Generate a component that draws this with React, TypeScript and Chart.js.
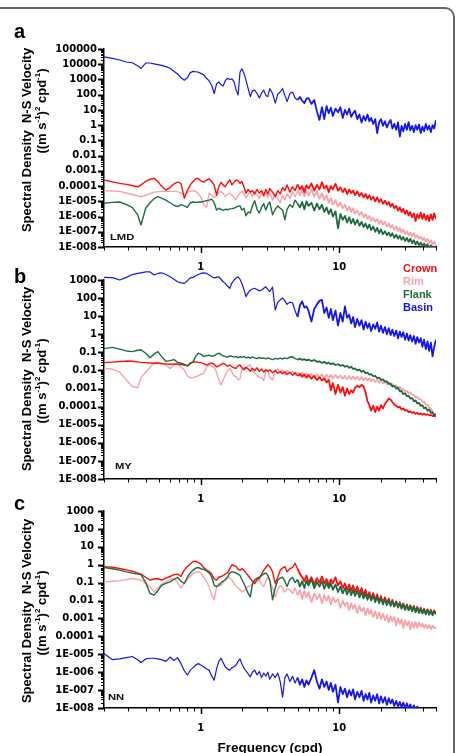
import React, { useEffect, useRef } from "react";
import { Chart, registerables } from "chart.js";

Chart.register(...registerables);

// Frequency (cpd), shared by every series
const FREQ = [
  0.2, 0.23, 0.26, 0.29, 0.32, 0.35, 0.37, 0.4, 0.43, 0.46,
  0.49, 0.52, 0.56, 0.6, 0.64, 0.68, 0.72, 0.76, 0.8, 0.84,
  0.88, 0.92, 0.96, 1.0, 1.05, 1.1, 1.15, 1.2, 1.25, 1.3,
  1.35, 1.4, 1.45, 1.5, 1.56, 1.62, 1.68, 1.74, 1.8, 1.86,
  1.92, 1.98, 2.05, 2.12, 2.2, 2.28, 2.36, 2.45, 2.55, 2.65,
  2.75, 2.85, 2.95, 3.05, 3.15, 3.3, 3.45, 3.6, 3.75, 3.9,
  4.05, 4.2, 4.4, 4.6, 4.8, 5.0, 5.2, 5.4, 5.6, 5.8,
  6.0, 6.3, 6.6, 6.9, 7.2, 7.5, 7.8, 8.1, 8.4, 8.7,
  9.0, 9.4, 9.8, 10.2, 10.6, 11.0, 11.4, 11.8, 12.2, 12.6,
  13.0, 13.5, 14.0, 14.5, 15.0, 15.5, 16.0, 16.5, 17.0, 17.6,
  18.2, 18.8, 19.4, 20.0, 20.7, 21.4, 22.1, 22.8, 23.5, 24.2,
  25.0, 25.8, 26.6, 27.4, 28.2, 29.0, 29.9, 30.8, 31.7, 32.6,
  33.6, 34.6, 35.6, 36.6, 37.7, 38.8, 39.9, 41.0, 42.2, 43.4,
  44.6, 45.9, 47.2, 48.5, 50.0,
];

// ---------- Panel a (LMD) ----------
const A_BASIN = [
  30000, 24000, 19000, 14000, 12500, 8000, 5400, 12000, 12000, 10500,
  9500, 8500, 7000, 5400, 3500, 2300, 1300, 900, 1300, 2800,
  3400, 3200, 3000, 2500, 2000, 1200, 800, 400, 120, 500,
  700, 450, 370, 800, 1200, 1000, 1100, 700, 200, 95,
  3000, 5000, 2500, 900, 250, 75, 180, 200, 120, 60,
  130, 200, 90, 75, 250, 120, 28, 110, 150, 250,
  90, 35, 120, 150, 60, 45, 70, 40, 28, 55,
  60, 25, 45, 8, 2.2, 15, 2.5, 18, 6, 14,
  4, 12, 7, 15, 3, 10, 5, 12, 3.5, 6,
  9, 2.5, 5, 1.5, 4, 2, 5, 1.8, 3, 1.2,
  2.5, 0.3, 1.5, 2.5, 0.9, 1.8, 0.7, 1.4, 2.2, 0.6,
  1.2, 0.5, 1.5, 0.18, 0.9, 0.4, 1.2, 0.5, 1.6, 0.45,
  0.9, 0.35, 1.0, 0.5, 1.1, 0.3, 0.8, 0.4, 1.2, 0.5,
  0.9, 0.35, 1.0, 0.6, 2.2,
];
const A_CROWN = [
  2.5e-4, 1.9e-4, 1.5e-4, 1.3e-4, 1.1e-4, 9e-5, 1.2e-4, 2e-4, 2.8e-4, 3.2e-4,
  2e-4, 1e-4, 5.5e-5, 8e-5, 1.4e-4, 1.8e-4, 1.5e-4, 1.6e-5, 5e-5, 1.2e-4,
  2e-4, 3e-4, 3.2e-4, 2.2e-4, 1.8e-4, 2.5e-4, 3e-4, 2e-4, 1.2e-4, 2.5e-5,
  9e-5, 1.8e-4, 1.2e-4, 9e-5, 1.6e-4, 2.5e-4, 1.2e-4, 1.8e-4, 2.5e-4, 2.3e-4,
  1.5e-4, 2e-4, 9e-5, 3.4e-5, 6e-5, 4e-5, 5e-5, 3e-5, 6e-5, 3.5e-5,
  5e-5, 2.5e-5, 6e-5, 3e-5, 7e-5, 4e-5, 2e-5, 5e-5, 3e-5, 8e-5,
  5e-5, 1.2e-4, 4e-5, 9e-5, 5e-5, 1.3e-4, 6e-5, 1e-4, 4e-5, 1.1e-4,
  7e-5, 1.5e-4, 5e-5, 1.2e-4, 6e-5, 1.8e-4, 7e-5, 1.1e-4, 4e-5, 1e-4,
  6e-5, 1.4e-4, 5e-5, 8e-5, 4e-5, 7e-5, 3e-5, 6e-5, 3.5e-5, 5e-5,
  2.5e-5, 4.5e-5, 2.2e-5, 3.5e-5, 1.8e-5, 3e-5, 1.5e-5, 2.5e-5, 1.3e-5, 2e-5,
  1e-5, 1.8e-5, 9e-6, 1.4e-5, 7e-6, 1.1e-5, 6e-6, 9e-6, 4.5e-6, 7e-6,
  3.5e-6, 5e-6, 2.5e-6, 4e-6, 2e-6, 3.2e-6, 1.5e-6, 2.5e-6, 1.2e-6, 2e-6,
  9e-7, 1.6e-6, 5e-7, 1.4e-6, 8e-7, 1.8e-6, 7e-7, 1.5e-6, 6e-7, 1.2e-6,
  5e-7, 1.4e-6, 6e-7, 1.6e-6, 7e-7,
];
const A_RIM = [
  5e-5, 4.8e-5, 4.5e-5, 3.5e-5, 2.8e-5, 2.3e-5, 2e-5, 2.5e-5, 3.2e-5, 4e-5,
  4.2e-5, 4.5e-5, 4.5e-5, 4.5e-5, 4.5e-5, 4.3e-5, 3.5e-5, 2.5e-5, 4e-5, 4.5e-5,
  5e-5, 4.5e-5, 3e-5, 2e-5, 6e-6, 4e-6, 3.5e-5, 2.5e-5, 1.7e-5, 2.5e-5,
  3.5e-5, 4.5e-5, 3.5e-5, 2e-5, 2.8e-5, 3.5e-5, 2.5e-5, 1.8e-5, 1.3e-5, 2.5e-5,
  3.5e-5, 4.5e-5, 3e-5, 1.7e-5, 3e-5, 4e-5, 2e-5, 4.5e-5, 2.5e-5, 1.5e-5,
  3.5e-5, 2e-5, 4e-5, 1.8e-5, 3.5e-5, 1.2e-5, 3e-5, 1.5e-5, 8e-6, 2.5e-5,
  1.2e-5, 3e-5, 1.5e-5, 4e-5, 2e-5, 5e-5, 2.5e-5, 6e-5, 2.2e-5, 5e-5,
  2.5e-5, 6e-5, 2e-5, 4.5e-5, 1.5e-5, 3.5e-5, 1.2e-5, 2.5e-5, 8e-6, 1.6e-5,
  6e-6, 1.2e-5, 4.5e-6, 8e-6, 3.5e-6, 6e-6, 2.5e-6, 4.5e-6, 2e-6, 3.5e-6,
  1.5e-6, 2.5e-6, 1.2e-6, 2e-6, 9e-7, 1.5e-6, 7e-7, 1.1e-6, 5e-7, 8e-7,
  4.5e-7, 7e-7, 3.5e-7, 5.5e-7, 3e-7, 4.5e-7, 2.2e-7, 3.5e-7, 1.8e-7, 2.8e-7,
  1.4e-7, 2.2e-7, 1.1e-7, 1.8e-7, 9e-8, 1.4e-7, 7e-8, 1.1e-7, 6e-8, 9e-8,
  5e-8, 8e-8, 4e-8, 6e-8, 3.5e-8, 5e-8, 2.8e-8, 4e-8, 2.2e-8, 3.5e-8,
  1.8e-8, 2.8e-8, 1.5e-8, 2.2e-8, 1.3e-8,
];
const A_FLANK = [
  7.4e-6, 8.5e-6, 9e-6, 6e-6, 4e-6, 1.3e-6, 2.8e-7, 3.5e-6, 8e-6, 1.5e-5,
  2e-5, 1.6e-5, 1.2e-5, 8e-6, 5.5e-6, 4.5e-6, 6e-6, 5e-6, 4e-6, 8e-6,
  9e-6, 8.5e-6, 9e-6, 9e-6, 1e-5, 1.1e-5, 1.2e-5, 1.4e-5, 8e-6, 2.7e-6,
  3.5e-6, 3e-6, 2.5e-6, 3e-6, 2.8e-6, 3.2e-6, 3.3e-6, 3.5e-6, 4.2e-6, 4.8e-6,
  5e-6, 2.7e-6, 3.5e-6, 1.1e-6, 2e-6, 1.7e-6, 5e-6, 1.1e-5, 3e-6, 1.7e-6,
  4e-6, 7e-6, 2.7e-6, 6e-6, 9e-6, 1.3e-6, 3e-6, 5e-6, 3.5e-6, 2.7e-6,
  6e-7, 3e-6, 6e-6, 4e-6, 1.2e-5, 7e-6, 4e-6, 9e-6, 3e-6, 1e-5,
  5e-6, 8e-6, 2.5e-6, 7e-6, 3e-6, 6e-6, 2e-6, 4e-6, 1.5e-6, 3e-6,
  1e-6, 2.2e-6, 1.7e-7, 1.5e-6, 6e-7, 1.1e-6, 4e-7, 9e-7, 3.5e-7, 7e-7,
  3e-7, 6e-7, 2.5e-7, 4.5e-7, 2e-7, 3.5e-7, 1.6e-7, 3e-7, 1.3e-7, 2.2e-7,
  1e-7, 1.8e-7, 8e-8, 1.4e-7, 7e-8, 1.1e-7, 6e-8, 9e-8, 5e-8, 8e-8,
  4e-8, 6.5e-8, 3.5e-8, 5.5e-8, 3e-8, 4.5e-8, 2.5e-8, 4e-8, 2.2e-8, 3.5e-8,
  1.8e-8, 2.8e-8, 1.5e-8, 2.3e-8, 1.3e-8, 2e-8, 1.1e-8, 1.7e-8, 1e-8, 1.5e-8,
  9e-9, 1.3e-8, 8e-9, 1.1e-8, 9e-9,
];

// ---------- Panel b (MY) ----------
const B_BASIN = [
  1400, 1350, 1000, 1400, 2000, 2300, 2500, 2800, 2800, 1900,
  2300, 2500, 2000, 1500, 1100, 800, 700, 650, 900, 1300,
  1400, 1700, 2000, 2300, 2500, 2300, 1900, 1500, 1300, 1400,
  1500, 1100, 800, 650, 450, 350, 700, 1000, 1300, 1500,
  1100, 650, 300, 120, 200, 280, 320, 350, 300, 250,
  280, 350, 420, 300, 230, 400, 22, 60, 80, 100,
  70, 45, 60, 55, 20, 9, 40, 65, 30, 35,
  20, 5, 25, 45, 70, 80, 15, 30, 8, 25,
  6, 20, 3, 15, 5, 35, 8, 12, 4, 9,
  2.5, 7, 3, 6, 1.8, 5, 2.2, 4, 1.5, 3.5,
  2, 4.5, 1.4, 3, 1.2, 2.5, 1, 2.2, 0.9, 1.8,
  0.8, 1.6, 0.6, 1.4, 0.7, 1.3, 0.5, 1.1, 0.45, 0.9,
  0.4, 0.8, 0.3, 0.7, 0.35, 0.6, 0.2, 0.5, 0.15, 0.4,
  0.12, 0.35, 0.06, 0.2, 0.5,
];
const B_CROWN = [
  0.027, 0.029, 0.031, 0.033, 0.032, 0.03, 0.028, 0.027, 0.026, 0.025,
  0.025, 0.024, 0.023, 0.022, 0.023, 0.022, 0.021, 0.02, 0.018, 0.024,
  0.029, 0.03, 0.028, 0.027, 0.024, 0.02, 0.023, 0.026, 0.022, 0.016,
  0.018, 0.021, 0.025, 0.022, 0.017, 0.02, 0.016, 0.014, 0.013, 0.018,
  0.02, 0.014, 0.011, 0.015, 0.012, 0.009, 0.013, 0.01, 0.014, 0.009,
  0.012, 0.008, 0.011, 0.009, 0.011, 0.0075, 0.01, 0.007, 0.009, 0.0065,
  0.0085, 0.006, 0.008, 0.0055, 0.0075, 0.005, 0.0065, 0.0045, 0.006, 0.004,
  0.0055, 0.0035, 0.005, 0.003, 0.0042, 0.0028, 0.0036, 0.0022, 0.003, 0.0008,
  0.002, 0.0005, 0.0016, 0.0006, 0.0012, 0.0004, 0.001, 0.0005, 0.0008, 0.0006,
  0.0011, 0.0014, 0.0012, 0.0016, 0.0013, 0.0006, 0.0002, 0.00012, 0.00006, 0.00011,
  0.00005, 0.0001, 0.00006, 0.00012, 0.00008, 0.00014, 0.0002, 0.00028, 0.00025, 0.00018,
  0.00013, 0.00011, 0.00009, 0.0001, 0.00007, 0.00008, 0.00006, 0.000065, 0.00005, 0.000055,
  0.000045, 0.00005, 0.00004, 0.000045, 0.000038, 0.000042, 0.000036, 0.00004, 0.000035, 0.000038,
  0.000033, 0.000035, 0.00003, 0.000032, 0.00003,
];
const B_RIM = [
  0.013, 0.012, 0.008, 0.003, 0.0013, 0.0011, 0.004, 0.008, 0.015, 0.025,
  0.03, 0.025, 0.02, 0.013, 0.02, 0.025, 0.015, 0.011, 0.005, 0.0038,
  0.004, 0.0045, 0.005, 0.006, 0.007, 0.015, 0.02, 0.017, 0.015, 0.008,
  0.003, 0.0016, 0.003, 0.0055, 0.01, 0.013, 0.008, 0.005, 0.0045, 0.003,
  0.0035, 0.011, 0.015, 0.012, 0.018, 0.02, 0.01, 0.007, 0.0055, 0.004,
  0.0038, 0.0028, 0.009, 0.011, 0.004, 0.003, 0.01, 0.012, 0.007, 0.011,
  0.006, 0.01, 0.007, 0.009, 0.006, 0.008, 0.005, 0.0075, 0.0045, 0.007,
  0.005, 0.0065, 0.004, 0.006, 0.0042, 0.0062, 0.0038, 0.0058, 0.004, 0.0056,
  0.0036, 0.0055, 0.0038, 0.0052, 0.0035, 0.005, 0.0034, 0.0048, 0.0033, 0.0047,
  0.0032, 0.0045, 0.003, 0.0043, 0.0029, 0.004, 0.0027, 0.0037, 0.0025, 0.0034,
  0.0023, 0.003, 0.0021, 0.0027, 0.0019, 0.0024, 0.0017, 0.0021, 0.0015, 0.0018,
  0.0013, 0.0015, 0.0011, 0.0012, 0.0009, 0.00095, 0.0007, 0.00075, 0.00055, 0.0006,
  0.00045, 0.00045, 0.00033, 0.00035, 0.00025, 0.00026, 0.00018, 0.00019, 0.00013, 0.00013,
  0.00009, 0.00008, 0.00005, 0.00004, 0.000023,
];
const B_FLANK = [
  0.16, 0.19, 0.15, 0.12, 0.11, 0.13, 0.14, 0.09, 0.05, 0.08,
  0.11, 0.06, 0.032, 0.035, 0.04, 0.028, 0.025, 0.022, 0.018, 0.026,
  0.03, 0.06, 0.09, 0.08, 0.06, 0.065, 0.07, 0.06, 0.065, 0.08,
  0.09, 0.075, 0.065, 0.06, 0.055, 0.065, 0.06, 0.055, 0.06, 0.05,
  0.058, 0.052, 0.06, 0.05, 0.055, 0.048, 0.056, 0.05, 0.045, 0.052,
  0.047, 0.05, 0.044, 0.05, 0.045, 0.04, 0.047, 0.042, 0.048, 0.043,
  0.05, 0.045, 0.055, 0.057, 0.045, 0.04, 0.045, 0.038, 0.042, 0.036,
  0.04, 0.033, 0.038, 0.03, 0.032, 0.026, 0.03, 0.024, 0.027, 0.022,
  0.025, 0.02, 0.022, 0.018, 0.02, 0.016, 0.018, 0.014, 0.016, 0.012,
  0.013, 0.01, 0.011, 0.0085, 0.0095, 0.007, 0.0075, 0.0058, 0.0062, 0.0048,
  0.005, 0.0038, 0.004, 0.003, 0.0032, 0.0024, 0.0025, 0.0018, 0.0019, 0.0013,
  0.0014, 0.001, 0.0011, 0.0007, 0.00075, 0.0005, 0.00055, 0.00038, 0.0004, 0.00028,
  0.0003, 0.0002, 0.00022, 0.00015, 0.00016, 0.00011, 0.00012, 0.00008, 0.00009, 0.00006,
  0.00007, 0.000045, 0.00005, 0.000032, 0.00004,
];

// ---------- Panel c (NN) ----------
const C_BASIN = [
  1.1e-5, 5e-6, 5.5e-6, 6.5e-6, 7.5e-6, 5e-6, 3.5e-6, 5.5e-6, 6e-6, 6e-6,
  5.5e-6, 5e-6, 4e-6, 7e-6, 4.5e-6, 6.5e-6, 3e-6, 1.2e-6, 7e-7, 1.3e-6,
  1.8e-6, 2.5e-6, 3e-6, 2.5e-6, 2e-6, 1.5e-6, 1.3e-6, 6e-7, 3.6e-7, 1.5e-6,
  4e-6, 6e-6, 3.5e-6, 2e-6, 1.5e-6, 1.3e-6, 1.8e-6, 2e-6, 2.5e-6, 4e-6,
  5.5e-6, 3e-6, 1.7e-6, 1.2e-6, 8e-7, 5.5e-7, 1e-6, 1.3e-6, 7e-7, 1.1e-6,
  5e-7, 9e-7, 6e-7, 1e-6, 4e-7, 8e-7, 5e-7, 9e-7, 3e-7, 4e-8,
  5e-7, 8e-7, 3e-7, 6e-7, 2.5e-7, 5e-7, 2e-7, 4e-7, 1.5e-7, 3.5e-7,
  2e-7, 5e-7, 1.3e-6, 3e-7, 1.2e-7, 4e-7, 1.5e-7, 3e-7, 1e-7, 2.5e-7,
  8e-8, 2e-7, 2e-8, 1.5e-7, 6e-8, 1.2e-7, 4e-8, 1e-7, 5e-8, 1.1e-7,
  3e-8, 8e-8, 4e-8, 9e-8, 2.5e-8, 6e-8, 3e-8, 7e-8, 2e-8, 5e-8,
  2.5e-8, 6e-8, 1.8e-8, 4.5e-8, 2e-8, 4e-8, 1.5e-8, 3.5e-8, 1.8e-8, 3e-8,
  1.3e-8, 2.5e-8, 1.2e-8, 2.2e-8, 1.1e-8, 2e-8, 1e-8, 1.8e-8, 9e-9, 1.6e-8,
  8e-9, 1.4e-8, 9e-9, 1.2e-8, 1e-8, 7e-9, 5e-9, 4e-9, 3e-9, 3e-9,
  2e-9, 2e-9, 2e-9, 2e-9, 2e-9,
];
const C_CROWN = [
  0.78, 0.72, 0.62, 0.52, 0.43, 0.35, 0.3, 0.2, 0.14, 0.16,
  0.17, 0.14, 0.18, 0.22, 0.28, 0.3, 0.22, 0.5, 0.8, 1.1,
  1.5, 1.6, 1.3, 1.1, 0.7, 0.5, 0.42, 0.3, 0.16, 0.14,
  0.2, 0.22, 0.25, 0.3, 0.35, 0.6, 1.0, 0.9, 0.8, 0.55,
  0.5, 0.6, 0.5, 0.35, 0.25, 0.17, 0.12, 0.09, 0.15, 0.17,
  0.3, 0.5, 0.7, 1.0, 0.8, 0.4, 0.09, 0.2, 0.5, 0.65,
  0.8, 0.4, 0.6, 0.7, 1.2, 0.6, 0.3, 0.2, 0.12, 0.25,
  0.1, 0.2, 0.08, 0.18, 0.1, 0.22, 0.09, 0.16, 0.07, 0.15,
  0.09, 0.2, 0.07, 0.12, 0.05, 0.09, 0.04, 0.08, 0.035, 0.07,
  0.03, 0.06, 0.025, 0.05, 0.02, 0.04, 0.015, 0.03, 0.013, 0.026,
  0.011, 0.022, 0.009, 0.018, 0.008, 0.015, 0.007, 0.013, 0.006, 0.011,
  0.005, 0.009, 0.0045, 0.008, 0.004, 0.007, 0.0035, 0.006, 0.003, 0.0055,
  0.0028, 0.005, 0.0025, 0.0045, 0.0022, 0.004, 0.002, 0.0035, 0.0019, 0.0032,
  0.0018, 0.003, 0.0017, 0.0028, 0.002,
];
const C_RIM = [
  0.11, 0.12, 0.13, 0.15, 0.17, 0.15, 0.14, 0.09, 0.06, 0.03,
  0.05, 0.08, 0.11, 0.15, 0.17, 0.1, 0.05, 0.09, 0.14, 0.22,
  0.33, 0.37, 0.4, 0.35, 0.2, 0.12, 0.06, 0.02, 0.011, 0.06,
  0.09, 0.07, 0.1, 0.15, 0.2, 0.18, 0.14, 0.09, 0.06, 0.05,
  0.04, 0.03, 0.035, 0.05, 0.06, 0.07, 0.08, 0.09, 0.12, 0.14,
  0.08, 0.06, 0.12, 0.2, 0.12, 0.05, 0.016, 0.04, 0.07, 0.05,
  0.03, 0.045, 0.04, 0.025, 0.05, 0.02, 0.04, 0.012, 0.035, 0.015,
  0.03, 0.008, 0.025, 0.012, 0.022, 0.007, 0.02, 0.01, 0.018, 0.006,
  0.015, 0.008, 0.012, 0.004, 0.01, 0.005, 0.008, 0.003, 0.007, 0.0035,
  0.006, 0.002, 0.005, 0.0025, 0.004, 0.0015, 0.0035, 0.0018, 0.003, 0.0012,
  0.0025, 0.001, 0.0022, 0.0009, 0.0018, 0.0008, 0.0015, 0.0006, 0.0013, 0.0007,
  0.0012, 0.0004, 0.001, 0.0005, 0.0009, 0.0003, 0.0008, 0.0004, 0.0007, 0.00025,
  0.0006, 0.0003, 0.00065, 0.0003, 0.0006, 0.00035, 0.0005, 0.0003, 0.00045, 0.00028,
  0.00042, 0.00025, 0.0004, 0.00028, 0.00033,
];
const C_FLANK = [
  0.7, 0.6, 0.5, 0.4, 0.34, 0.3, 0.28, 0.1, 0.025, 0.02,
  0.035, 0.07, 0.09, 0.11, 0.15, 0.2, 0.12, 0.09, 0.2, 0.35,
  0.5, 0.65, 0.7, 0.6, 0.55, 0.45, 0.35, 0.2, 0.07, 0.06,
  0.07, 0.1, 0.12, 0.14, 0.2, 0.35, 0.4, 0.38, 0.35, 0.3,
  0.25, 0.15, 0.09, 0.05, 0.025, 0.016, 0.08, 0.14, 0.18, 0.2,
  0.25, 0.3, 0.35, 0.25, 0.14, 0.011, 0.05, 0.14, 0.18, 0.2,
  0.12, 0.06, 0.15, 0.2, 0.1, 0.15, 0.06, 0.12, 0.05, 0.13,
  0.07, 0.15, 0.05, 0.11, 0.06, 0.12, 0.045, 0.1, 0.05, 0.09,
  0.04, 0.08, 0.03, 0.06, 0.025, 0.05, 0.022, 0.045, 0.02, 0.04,
  0.018, 0.035, 0.015, 0.03, 0.013, 0.025, 0.011, 0.021, 0.01, 0.018,
  0.008, 0.016, 0.007, 0.014, 0.006, 0.012, 0.0055, 0.01, 0.005, 0.009,
  0.0045, 0.008, 0.004, 0.007, 0.0035, 0.006, 0.003, 0.0055, 0.0028, 0.005,
  0.0025, 0.0045, 0.0022, 0.004, 0.002, 0.0035, 0.0019, 0.0032, 0.0017, 0.003,
  0.0016, 0.0027, 0.0015, 0.0024, 0.0017,
];

// ---------- axes ----------
const Y_TICKS_A = [1e5, 1e4, 1000, 100, 10, 1, 0.1, 0.01, 0.001, 0.0001, 1e-5, 1e-6, 1e-7, 1e-8];
const Y_LABELS_A = ["100000", "10000", "1000", "100", "10", "1", "0.1", "0.01", "0.001", "0.0001", "1E-005", "1E-006", "1E-007", "1E-008"];
const Y_TICKS_BC = [1000, 100, 10, 1, 0.1, 0.01, 0.001, 0.0001, 1e-5, 1e-6, 1e-7, 1e-8];
const Y_LABELS_BC = ["1000", "100", "10", "1", "0.1", "0.01", "0.001", "0.0001", "1E-005", "1E-006", "1E-007", "1E-008"];
const X_TICKS = [1, 10];
const X_LABELS = ["1", "10"];
const X_MIN = 0.2;
const X_MAX = 50;

const SERIES_NAMES = ["Crown", "Rim", "Flank", "Basin"];
const COLORS: Record<string, string> = {
  Crown: "#ff0d0d",
  Rim: "#f7a3aa",
  Flank: "#1f6b3d",
  Basin: "#1616ec",
};

const TICK_FONT = { family: "'DejaVu Sans', sans-serif", size: 10, weight: "bold" as const };
const ARIAL = "'Liberation Sans', Arial, sans-serif";

function labelFor(v: number, ticks: number[], labels: string[]) {
  for (let i = 0; i < ticks.length; i++) {
    if (Math.abs(Math.log10(v) - Math.log10(ticks[i])) < 0.001) return labels[i];
  }
  return "";
}

const axisTicksPlugin = {
  id: "axisTicks",
  afterDraw(chart: any) {
    const { ctx, chartArea } = chart;
    const xs = chart.scales.x;
    const ys = chart.scales.y;
    ctx.save();
    ctx.strokeStyle = "#000";
    const e0 = Math.round(Math.log10(ys.min));
    const e1 = Math.round(Math.log10(ys.max));
    for (let e = e0; e <= e1; e++) {
      for (let m = 1; m <= 9; m++) {
        const v = m * Math.pow(10, e);
        if (v > ys.max * 1.0001) break;
        const py = Math.round(ys.getPixelForValue(v)) + 0.5;
        ctx.lineWidth = m === 1 ? 2 : 1;
        ctx.beginPath();
        ctx.moveTo(chartArea.left - (m === 1 ? 6 : 3), py);
        ctx.lineTo(chartArea.left, py);
        ctx.stroke();
      }
    }
    for (let e = -1; e <= 1; e++) {
      for (let m = 1; m <= 9; m++) {
        const v = m * Math.pow(10, e);
        if (v < xs.min * 0.9999 || v > xs.max * 1.0001) continue;
        const px = Math.round(xs.getPixelForValue(v)) + 0.5;
        const major = m === 1 && e >= 0;
        ctx.lineWidth = major ? 1.5 : 1;
        ctx.beginPath();
        ctx.moveTo(px, chartArea.bottom);
        ctx.lineTo(px, chartArea.bottom + (major ? 6 : 3.5));
        ctx.stroke();
      }
    }
    ctx.restore();
  },
};

type PanelSpec = {
  top: number;
  height: number;
  areaTop: number;
  areaBottom: number;
  yMin: number;
  yMax: number;
  yTicks: number[];
  yLabels: string[];
  yLabelPad: number;
  series: { name: string; values: number[] }[];
};

const PANELS: PanelSpec[] = [
  {
    top: 0, height: 290, areaTop: 49, areaBottom: 247,
    yMin: 1e-8, yMax: 1e5, yTicks: Y_TICKS_A, yLabels: Y_LABELS_A, yLabelPad: 7,
    series: [
      { name: "Basin", values: A_BASIN },
      { name: "Flank", values: A_FLANK },
      { name: "Crown", values: A_CROWN },
      { name: "Rim", values: A_RIM },
    ],
  },
  {
    top: 255, height: 265, areaTop: 280, areaBottom: 479,
    yMin: 1e-8, yMax: 1e3, yTicks: Y_TICKS_BC, yLabels: Y_LABELS_BC, yLabelPad: 7,
    series: [
      { name: "Basin", values: B_BASIN },
      { name: "Flank", values: B_FLANK },
      { name: "Crown", values: B_CROWN },
      { name: "Rim", values: B_RIM },
    ],
  },
  {
    top: 495, height: 258, areaTop: 511, areaBottom: 708,
    yMin: 1e-8, yMax: 1e3, yTicks: Y_TICKS_BC, yLabels: Y_LABELS_BC, yLabelPad: 10,
    series: [
      { name: "Basin", values: C_BASIN },
      { name: "Flank", values: C_FLANK },
      { name: "Crown", values: C_CROWN },
      { name: "Rim", values: C_RIM },
    ],
  },
];

function buildConfig(p: PanelSpec): any {
  const yAsc = [...p.yTicks].sort((a, b) => a - b);
  return {
    type: "line",
    data: {
      datasets: p.series.map((s) => ({
        label: s.name,
        data: FREQ.map((f, i) => ({ x: f, y: s.values[i] })),
        borderColor: COLORS[s.name],
        borderWidth: 1.3,
        // denser, noisier high-frequency part reads heavier in the original
        segment: {
          borderWidth: (c: any) => (c.p0.parsed.x >= 5 ? 1.8 : s.name === "Basin" ? 1.2 : 1.4),
        },
        pointRadius: 0,
        tension: 0,
        fill: false,
        borderJoinStyle: "round",
        clip: { left: 0, top: 20, right: 0, bottom: 0 },
      })),
    },
    options: {
      animation: false,
      responsive: false,
      events: [],
      layout: { padding: { top: p.areaTop - p.top, right: 27, bottom: 0, left: 0 } },
      plugins: { legend: { display: false }, tooltip: { enabled: false }, title: { display: false } },
      scales: {
        x: {
          type: "logarithmic",
          position: "bottom",
          min: X_MIN,
          max: X_MAX,
          grid: { display: false, drawTicks: false },
          border: { display: true, color: "#000", width: 1.5 },
          ticks: {
            autoSkip: false,
            maxRotation: 0,
            padding: 14,
            color: "#000",
            font: TICK_FONT,
            callback: (v: any) => labelFor(Number(v), X_TICKS, X_LABELS),
          },
          afterBuildTicks: (s: any) => {
            s.ticks = X_TICKS.map((v) => ({ value: v }));
          },
          afterFit: (s: any) => {
            s.height = p.top + p.height - p.areaBottom;
          },
        },
        y: {
          type: "logarithmic",
          position: "left",
          min: p.yMin,
          max: p.yMax,
          grid: { display: false, drawTicks: false },
          border: { display: true, color: "#000", width: 1.5 },
          ticks: {
            autoSkip: false,
            padding: p.yLabelPad,
            color: "#000",
            font: TICK_FONT,
            callback: (v: any) => labelFor(Number(v), p.yTicks, p.yLabels),
          },
          afterBuildTicks: (s: any) => {
            s.ticks = yAsc.map((v) => ({ value: v }));
          },
          afterFit: (s: any) => {
            s.width = 104;
          },
        },
      },
    },
    plugins: [axisTicksPlugin],
  };
}

function Panel({ spec }: { spec: PanelSpec }) {
  const ref = useRef<HTMLCanvasElement>(null);
  useEffect(() => {
    if (!ref.current) return;
    const chart = new Chart(ref.current, buildConfig(spec));
    return () => chart.destroy();
  }, [spec]);
  return (
    <canvas
      ref={ref}
      width={463}
      height={spec.height}
      style={{ position: "absolute", left: 0, top: spec.top, width: 463, height: spec.height }}
    />
  );
}

const rot: React.CSSProperties = {
  position: "absolute",
  transform: "translate(-50%, -50%) rotate(-90deg)",
  whiteSpace: "nowrap",
  font: `bold 13px ${ARIAL}`,
  lineHeight: "15px",
  color: "#000",
};
const supStyle: React.CSSProperties = { fontSize: "8px", lineHeight: 0 };

function YTitle({ x1, y1, x2, y2 }: { x1: number; y1: number; x2: number; y2: number }) {
  return (
    <>
      <div style={{ ...rot, left: x1, top: y1 }}>Spectral Density&nbsp;&nbsp;N-S Velocity</div>
      <div style={{ ...rot, left: x2, top: y2 }}>
        ((m s<sup style={supStyle}>-1</sup>)<sup style={supStyle}>2</sup> cpd<sup style={supStyle}>-1</sup>)
      </div>
    </>
  );
}

const letter: React.CSSProperties = {
  position: "absolute",
  font: `bold 20px ${ARIAL}`,
  lineHeight: "20px",
  color: "#000",
};
const site: React.CSSProperties = {
  position: "absolute",
  font: `bold 9px ${ARIAL}`,
  lineHeight: "10px",
  color: "#111",
  transform: "scaleX(1.25)",
  transformOrigin: "left center",
};

export default function App() {
  return (
    <div style={{ position: "relative", width: 463, height: 753, overflow: "hidden", background: "#fff" }}>
      <style>{"body{margin:0}"}</style>
      {PANELS.map((p, i) => (
        <Panel key={i} spec={p} />
      ))}
      <div style={{ ...letter, left: 14, top: 21 }}>a</div>
      <div style={{ ...letter, left: 14, top: 266 }}>b</div>
      <div style={{ ...letter, left: 14, top: 493 }}>c</div>
      <YTitle x1={26} y1={140} x2={41} y2={111} />
      <YTitle x1={26} y1={379} x2={41} y2={381} />
      <YTitle x1={26} y1={611} x2={41} y2={613} />
      <div style={{ ...site, left: 110, top: 232 }}>LMD</div>
      <div style={{ ...site, left: 115, top: 461 }}>MY</div>
      <div style={{ ...site, left: 108, top: 692 }}>NN</div>
      <div style={{ position: "absolute", left: 403, top: 261.5, font: `bold 11px ${ARIAL}`, lineHeight: "13px" }}>
        {SERIES_NAMES.map((n) => (
          <div key={n} style={{ color: COLORS[n] }}>{n}</div>
        ))}
      </div>
      <div
        style={{
          position: "absolute", left: 270, top: 747, transform: "translate(-50%, -50%)",
          font: `bold 13.5px ${ARIAL}`, whiteSpace: "nowrap", color: "#000",
        }}
      >
        Frequency (cpd)
      </div>
      <div
        style={{
          position: "absolute", left: -20, top: 7, width: 475, height: 800,
          border: "2px solid #666", borderRadius: 10, boxSizing: "border-box",
          pointerEvents: "none",
        }}
      />
    </div>
  );
}
